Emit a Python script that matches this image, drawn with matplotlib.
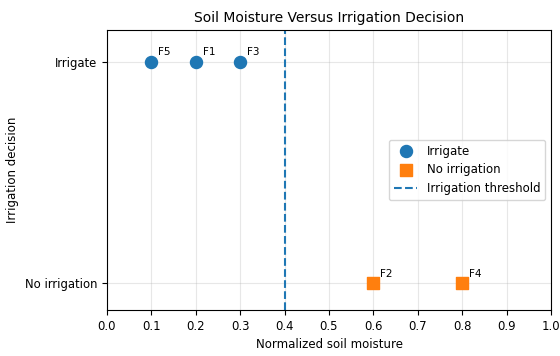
import numpy as np
import matplotlib
matplotlib.use("Agg")
import matplotlib.pyplot as plt

# fields, moisture and decision (1 = irrigate, 0 = no irrigation)
irr_fields = ["F5", "F1", "F3"]
irr_moist = [0.1, 0.2, 0.3]
no_fields = ["F2", "F4"]
no_moist = [0.6, 0.8]
threshold = 0.4

fig, ax = plt.subplots(figsize=(5.6, 3.56), dpi=100)
ax.scatter(irr_moist, [1] * len(irr_moist), s=75, marker="o", color="#1f77b4", label="Irrigate", zorder=3)
ax.scatter(no_moist, [0] * len(no_moist), s=75, marker="s", color="#ff7f0e", label="No irrigation", zorder=3)
for f, x in zip(irr_fields, irr_moist):
    ax.annotate(f, (x, 1), xytext=(5, 5), textcoords="offset points", fontsize=7.5)
for f, x in zip(no_fields, no_moist):
    ax.annotate(f, (x, 0), xytext=(5, 5), textcoords="offset points", fontsize=7.5)
ax.axvline(threshold, color="#1f77b4", ls="--", lw=1.5, label="Irrigation threshold")

ax.set_xlim(0, 1)
ax.set_xticks(np.arange(0, 1.01, 0.1))
ax.set_ylim(-0.12, 1.145)
ax.set_yticks([0, 1])
ax.set_yticklabels(["No irrigation", "Irrigate"])
ax.tick_params(labelsize=8.4)
ax.set_xlabel("Normalized soil moisture", fontsize=8.5)
ax.set_ylabel("Irrigation decision", fontsize=8.5)
ax.set_title("Soil Moisture Versus Irrigation Decision", fontsize=10)
ax.grid(True, alpha=0.3)
ax.legend(fontsize=8.5, loc="center right")
fig.subplots_adjust(left=0.191, right=0.984, top=0.916, bottom=0.129)
plt.savefig("out.png", dpi=100)
